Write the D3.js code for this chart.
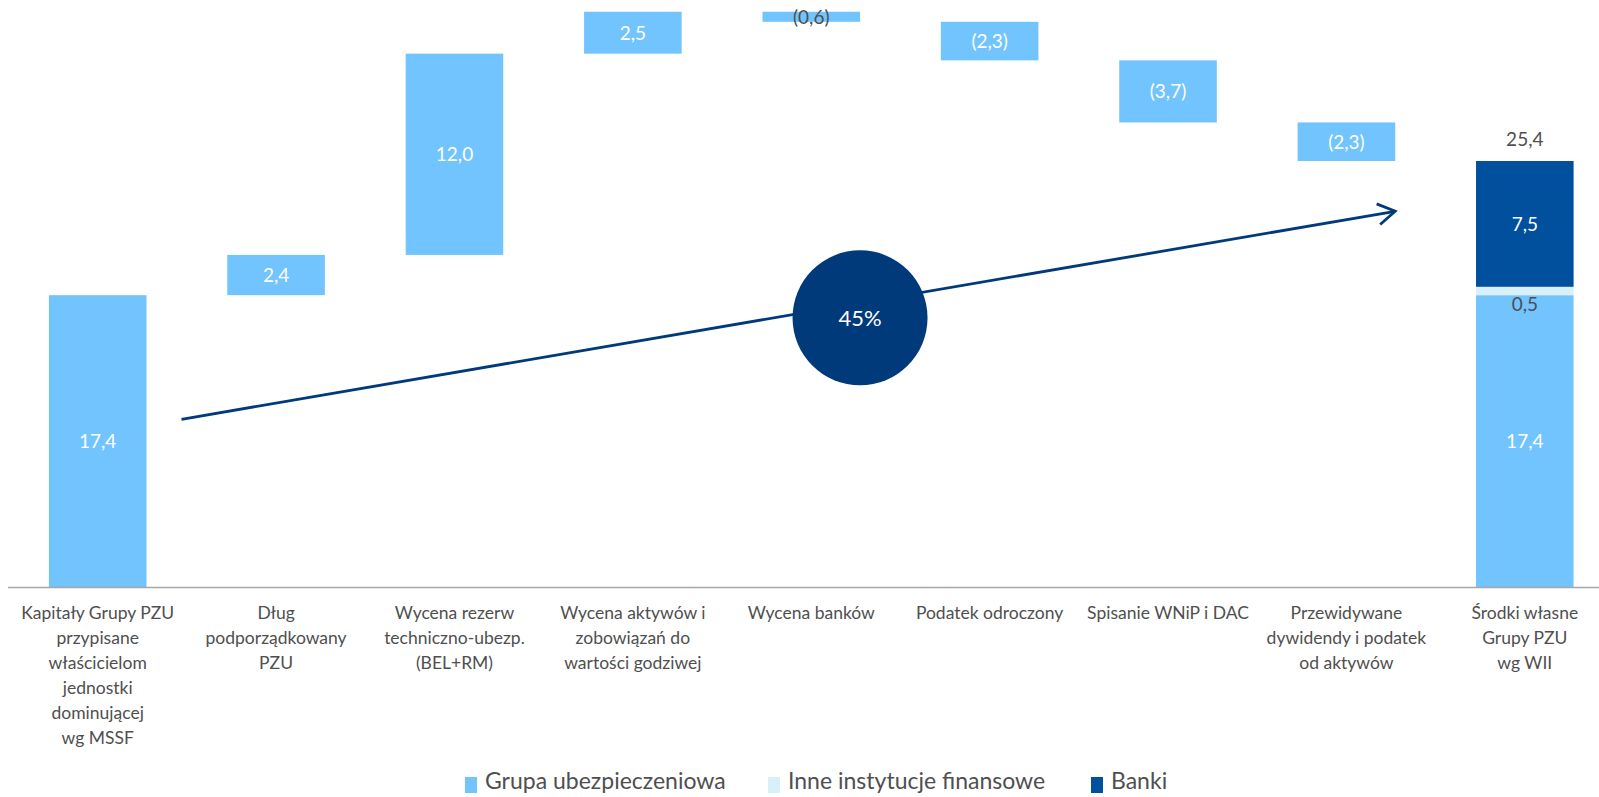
<!DOCTYPE html>
<html><head><meta charset="utf-8">
<script src="https://cdn.jsdelivr.net/npm/d3@7"></script>
<style>
html,body{margin:0;padding:0;background:#fff;}
svg{display:block;font-family:Lato, "Open Sans", sans-serif;}
</style></head>
<body>
<svg id="chart" width="1599" height="797"></svg>
<script>
// ---- data ----
const categories = [
  "Kapitały Grupy PZU przypisane właścicielom jednostki dominującej wg MSSF",
  "Dług podporządkowany PZU",
  "Wycena rezerw techniczno-ubezp. (BEL+RM)",
  "Wycena aktywów i zobowiązań do wartości godziwej",
  "Wycena banków",
  "Podatek odroczony",
  "Spisanie WNiP i DAC",
  "Przewidywane dywidendy i podatek od aktywów",
  "Środki własne Grupy PZU wg WII"
];
const categoryLines = [
  ["Kapitały Grupy PZU","przypisane","właścicielom","jednostki","dominującej","wg MSSF"],
  ["Dług","podporządkowany","PZU"],
  ["Wycena rezerw","techniczno-ubezp.","(BEL+RM)"],
  ["Wycena aktywów i","zobowiązań do","wartości godziwej"],
  ["Wycena banków"],
  ["Podatek odroczony"],
  ["Spisanie WNiP i DAC"],
  ["Przewidywane","dywidendy i podatek","od aktywów"],
  ["Środki własne","Grupy PZU","wg WII"]
];
// waterfall steps (first = starting total), billions PLN
const steps = [17.4, 2.4, 12.0, 2.5, -0.6, -2.3, -3.7, -2.3];
// final stacked bar components
const seriesNames = ["Grupa ubezpieczeniowa", "Inne instytucje finansowe", "Banki"];
const finalStack = [17.4, 0.5, 7.5];
const finalTotal = 25.4;
const circleLabel = "45%";
const yMax = 35;

// ---- styles ----
const colors = ["#72C4FF", "#D8F0FA", "#00509E"];
const navy = "#003A7B";
const gray = "#4F4F4F";

const svg = d3.select("#chart");
const baseY = 587;
const x = d3.scaleBand().domain(categories).range([8.5, 1614]).paddingInner(0.453).paddingOuter(0.2265);
const y = d3.scaleLinear().domain([0, yMax]).range([baseY, 0]);
const bw = x.bandwidth();
const fmt = v => { const s = Math.abs(v).toFixed(1).replace(".", ","); return v < 0 ? "(" + s + ")" : s; };

// build waterfall rows
let run = 0;
const rows = steps.map((d, i) => {
  const start = i === 0 ? 0 : run;
  const end = start + d;
  run = end;
  return {cat: categories[i], lo: Math.min(start, end), hi: Math.max(start, end), v: d};
});

// arrow (drawn under the circle)
const arrowStart = [x(categories[0]) + bw + 35, y(10.0)];
const arrowEnd = [x(categories[7]) + bw, y(22.4)];
svg.append("line").attr("x1", arrowStart[0]).attr("y1", arrowStart[1])
  .attr("x2", arrowEnd[0]).attr("y2", arrowEnd[1])
  .attr("stroke", navy).attr("stroke-width", 2.8);
{
  const ang = Math.atan2(arrowEnd[1] - arrowStart[1], arrowEnd[0] - arrowStart[0]);
  const L = 20, a = 0.55;
  const p1 = [arrowEnd[0] - L * Math.cos(ang - a), arrowEnd[1] - L * Math.sin(ang - a)];
  const p2 = [arrowEnd[0] - L * Math.cos(ang + a), arrowEnd[1] - L * Math.sin(ang + a)];
  svg.append("path").attr("d", `M${p1}L${arrowEnd}L${p2}`).attr("fill", "none")
    .attr("stroke", navy).attr("stroke-width", 2.8);
}

// waterfall bars
svg.selectAll("rect.step").data(rows).join("rect").attr("class", "step")
  .attr("x", d => x(d.cat)).attr("width", bw)
  .attr("y", d => y(d.hi)).attr("height", d => y(d.lo) - y(d.hi))
  .attr("fill", colors[0]);

svg.selectAll("text.step").data(rows).join("text").attr("class", "step")
  .attr("x", d => x(d.cat) + bw / 2)
  .attr("y", d => (y(d.hi) + y(d.lo)) / 2)
  .attr("dy", "0.36em").attr("text-anchor", "middle")
  .attr("font-size", 19)
  .attr("fill", d => (y(d.lo) - y(d.hi)) < 20 ? gray : "#fff")
  .text(d => fmt(d.v));

// final stacked bar
const lastCat = categories[8];
let acc = 0;
const segs = finalStack.map((v, i) => { const s = {lo: acc, hi: acc + v, v, i}; acc += v; return s; });
svg.selectAll("rect.fin").data(segs).join("rect").attr("class", "fin")
  .attr("x", x(lastCat)).attr("width", bw)
  .attr("y", d => y(d.hi)).attr("height", d => y(d.lo) - y(d.hi))
  .attr("fill", d => colors[d.i]);
svg.selectAll("text.fin").data(segs).join("text").attr("class", "fin")
  .attr("x", x(lastCat) + bw / 2)
  .attr("y", d => d.i === 1 ? y(d.lo) + 9 : (y(d.hi) + y(d.lo)) / 2)
  .attr("dy", "0.36em").attr("text-anchor", "middle").attr("font-size", 19)
  .attr("fill", d => d.i === 1 ? gray : "#fff")
  .text(d => fmt(d.v));
svg.append("text").attr("x", x(lastCat) + bw / 2).attr("y", y(finalTotal) - 15)
  .attr("text-anchor", "middle").attr("font-size", 19).attr("fill", gray)
  .text(fmt(finalTotal));

// circle annotation
const cx = x(categories[4]) + bw, cy = y(16.05);
svg.append("circle").attr("cx", cx).attr("cy", cy).attr("r", 67.5).attr("fill", navy);
svg.append("text").attr("x", cx).attr("y", cy).attr("dy", "0.36em")
  .attr("text-anchor", "middle").attr("font-size", 22).attr("fill", "#fff").text(circleLabel);

// baseline axis
svg.append("line").attr("x1", 8).attr("x2", 1599).attr("y1", baseY + 0.5).attr("y2", baseY + 0.5)
  .attr("stroke", "#A6A6A6").attr("stroke-width", 1.6);

// category labels
categories.forEach((c, i) => {
  const t = svg.append("text").attr("text-anchor", "middle").attr("font-size", 17.5).attr("fill", gray);
  categoryLines[i].forEach((ln, j) => {
    t.append("tspan").attr("x", x(c) + bw / 2).attr("y", 619 + j * 25).text(ln);
  });
});

// legend
const legendX = [465, 768, 1091];
seriesNames.forEach((n, i) => {
  svg.append("rect").attr("x", legendX[i]).attr("y", 777).attr("width", 12).attr("height", 16).attr("fill", colors[i]);
  svg.append("text").attr("x", legendX[i] + 20).attr("y", 789).attr("font-size", 23)
    .attr("fill", gray).text(n);
});
</script>
</body></html>
